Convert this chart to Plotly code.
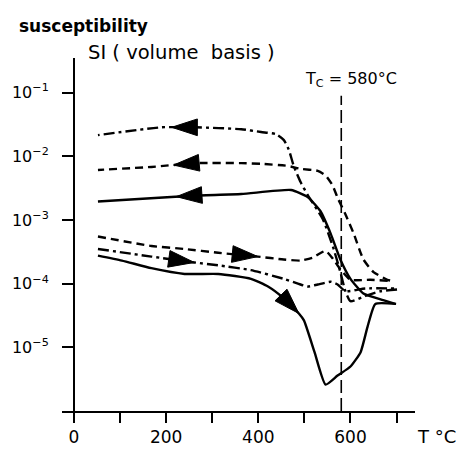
import numpy as np
import plotly.graph_objects as go

# ---------------- data ----------------
T_solid_cool = [697, 671, 628, 600, 578, 557, 535, 507, 471, 363, 255, 52]
chi_solid_cool = [4.8e-5, 5.5e-5, 7.0e-5, 1.19e-4, 2.4e-4, 6.1e-4, 1.37e-3, 2.3e-3, 2.95e-3, 2.55e-3, 2.4e-3, 1.95e-3]

T_solid_heat = [52, 104, 168, 240, 313, 384, 421, 455, 488, 499, 522, 546, 572, 600, 622, 637, 654, 699]
chi_solid_heat = [2.75e-4, 2.3e-4, 1.75e-4, 1.42e-4, 1.42e-4, 1.19e-4, 9.0e-5, 5.9e-5, 3.4e-5, 2.65e-5,
                  8.4e-6, 2.6e-6, 3.6e-6, 5.0e-6, 8.4e-6, 2.1e-5, 4.8e-5, 4.8e-5]

T_dash_cool = [686, 680, 650, 628, 607, 589, 572, 561, 546, 529, 492, 464, 406, 363, 265, 168, 52]
chi_dash_cool = [1.12e-4, 1.15e-4, 1.52e-4, 2.4e-4, 6.1e-4, 1.23e-3, 2.23e-3, 3.5e-3, 5.0e-3, 5.9e-3,
                 6.35e-3, 7.05e-3, 7.6e-3, 7.8e-3, 7.8e-3, 6.8e-3, 6.1e-3]

T_dash_heat = [52, 168, 240, 313, 399, 455, 492, 518, 546, 563, 578, 600, 643, 682]
chi_dash_heat = [5.5e-4, 3.9e-4, 3.5e-4, 3.05e-4, 2.66e-4, 2.39e-4, 2.3e-4, 2.56e-4, 3.27e-4, 2.39e-4,
                 1.69e-4, 1.15e-4, 1.15e-4, 1.11e-4]

T_dd_cool = [701, 665, 632, 600, 589, 578, 563, 540, 507, 492, 477, 466, 455, 438, 406, 363, 265, 190, 52]
chi_dd_cool = [8.1e-5, 7.6e-5, 6.4e-5, 5.3e-5, 7.6e-5, 1.52e-4, 3.6e-4, 1.03e-3, 2.48e-3, 3.9e-3,
               7.0e-3, 1.28e-2, 1.81e-2, 2.23e-2, 2.4e-2, 2.66e-2, 2.85e-2, 2.85e-2, 2.15e-2]

T_dd_heat = [52, 168, 261, 313, 384, 455, 486, 507, 529, 557, 572, 589, 632, 701]
chi_dd_heat = [3.5e-4, 2.66e-4, 2.15e-4, 1.94e-4, 1.63e-4, 1.19e-4, 1.0e-4, 9.0e-5, 9.7e-5, 1.07e-4,
               9.7e-5, 7.6e-5, 8.4e-5, 8.4e-5]

T_curie = 580
x_tick_vals = [0, 100, 200, 300, 400, 500, 600, 700]
x_tick_text = ["0", "", "200", "", "400", "", "600", ""]
y_tick_vals = [1e-1, 1e-2, 1e-3, 1e-4, 1e-5]
y_tick_text = ["10<sup>−1</sup>", "10<sup>−2</sup>", "10<sup>−3</sup>", "10<sup>−4</sup>", "10<sup>−5</sup>"]

# ---------------- styling ----------------
FONT = "DejaVu Sans"
LW = 2.4
DASH = "8px,5px"
DASHDOT = "11px,4px,3px,4px"

series = [
    (T_dd_cool, chi_dd_cool, DASHDOT, 212, +1),
    (T_dash_cool, chi_dash_cool, DASH, 216, +1),
    (T_solid_cool, chi_solid_cool, "solid", 222, +1),
    (T_dash_heat, chi_dash_heat, DASH, 399, -1),
    (T_dd_heat, chi_dd_heat, DASHDOT, 261, -1),
    (T_solid_heat, chi_solid_heat, "solid", 488, -1),
]

fig = go.Figure()


def interp_log(T, chi, t):
    T = np.asarray(T, float)
    lc = np.log10(np.asarray(chi, float))
    if T[0] > T[-1]:
        T, lc = T[::-1], lc[::-1]
    return 10 ** np.interp(t, T, lc)


for T, chi, dash, t_arrow, direction in series:
    fig.add_trace(go.Scatter(
        x=T, y=chi, mode="lines",
        line=dict(color="black", width=LW, dash=dash, shape="spline", smoothing=0.5),
        hoverinfo="skip", showlegend=False,
    ))
    # arrow head following direction of travel
    t_prev = t_arrow + direction * 20
    fig.add_trace(go.Scatter(
        x=[t_prev, t_arrow],
        y=[interp_log(T, chi, t_prev), interp_log(T, chi, t_arrow)],
        mode="markers",
        marker=dict(symbol="arrow", size=[0, 27], color="black", opacity=1,
                    angleref="previous", line=dict(width=1, color="black")),
        hoverinfo="skip", showlegend=False,
    ))

# Curie temperature line
fig.add_trace(go.Scatter(
    x=[T_curie, T_curie], y=[1e-6, 10 ** -1.05], mode="lines",
    line=dict(color="black", width=1.6, dash="13px,5px"),
    hoverinfo="skip", showlegend=False,
))

X_MIN, X_MAX = -26, 740
fig.update_layout(
    width=466, height=459,
    margin=dict(l=60, r=51, t=58, b=35),
    paper_bgcolor="white", plot_bgcolor="white",
    font=dict(family=FONT, color="black", size=17),
    xaxis=dict(
        range=[X_MIN, X_MAX], showgrid=False, zeroline=False,
        showline=True, linecolor="black", linewidth=2,
        ticks="outside", ticklen=10, tickwidth=1.8, tickcolor="black",
        tickvals=x_tick_vals, ticktext=x_tick_text,
        tickfont=dict(size=17, family=FONT),
    ),
    yaxis=dict(
        type="log", range=[-6, -0.457], showgrid=False, zeroline=False,
        showline=True, linecolor="black", linewidth=2,
        anchor="free", position=(0 - X_MIN) / (X_MAX - X_MIN),
        ticks="outside", ticklen=11, tickwidth=1.8, tickcolor="black",
        tickvals=y_tick_vals, ticktext=y_tick_text, ticklabelstandoff=10,
        tickfont=dict(size=16, family=FONT),
    ),
)

fig.add_annotation(text="<b>susceptibility</b>", xref="paper", yref="paper",
                   x=-0.127, y=1.090, xanchor="left", yanchor="middle",
                   showarrow=False, font=dict(size=17))
fig.add_annotation(text="SI ( volume  basis )", xref="paper", yref="paper",
                   x=0.068, y=1.016, xanchor="left", yanchor="middle",
                   showarrow=False, font=dict(size=19.5))
fig.add_annotation(text="T<sub>C</sub> = 580°C", xref="x", yref="y",
                   x=498, y=-0.80, xanchor="left", yanchor="middle",
                   showarrow=False, font=dict(size=16))
fig.add_annotation(text="T °C", xref="paper", yref="paper",
                   x=1.0, y=-0.071, xanchor="left", yanchor="middle",
                   showarrow=False, font=dict(size=18))

fig.write_html("out.html")
